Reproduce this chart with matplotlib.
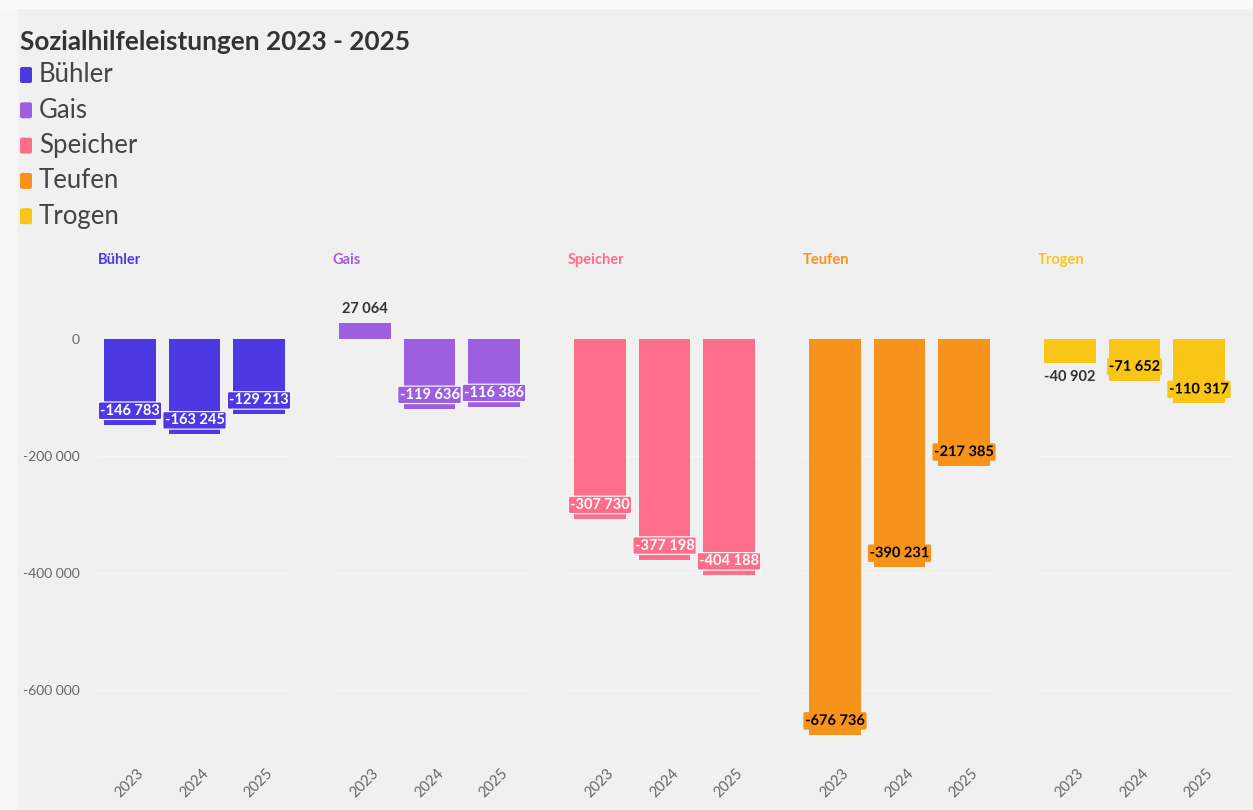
import matplotlib.pyplot as plt
import matplotlib.patheffects as pe
from matplotlib.patches import FancyBboxPatch, Rectangle
from matplotlib.transforms import ScaledTranslation

plt.rcParams['font.family'] = ['Lato', 'DejaVu Sans']

years = ['2023', '2024', '2025']
gemeinden = ['Bühler', 'Gais', 'Speicher', 'Teufen', 'Trogen']
buehler = [-146783, -163245, -129213]
gais = [27064, -119636, -116386]
speicher = [-307730, -377198, -404188]
teufen = [-676736, -390231, -217385]
trogen = [-40902, -71652, -110317]
werte = [buehler, gais, speicher, teufen, trogen]

farben = ['#4d39e4', '#9b5fe0', '#fe6d8a', '#f7921a', '#f9c516']
textfarben = ['white', 'white', 'white', 'black', 'black']
yticks = [0, -200000, -400000, -600000]

W, H = 1253, 810
BG = '#f0f0f0'
fig = plt.figure(figsize=(W / 100, H / 100), dpi=100, facecolor=BG)

# screenshot border
fig.add_artist(Rectangle((0, 0), 18 / W, 1, transform=fig.transFigure,
                         facecolor='#f6f6f6', edgecolor='none', zorder=0))
fig.add_artist(Rectangle((0, 1 - 9 / H), 1, 9 / H, transform=fig.transFigure,
                         facecolor='#fafafa', edgecolor='none', zorder=0))


def fmt(v):
    return f"{v:,}".replace(',', ' ')


def px(x, y):
    return x / W, 1 - y / H


# title + legend
fig.text(*px(20, 42), 'Sozialhilfeleistungen 2023 - 2025', fontsize=18.8,
         fontweight='bold', color='#333333', va='center', ha='left')
for i, (name, c) in enumerate(zip(gemeinden, farben)):
    yc = 75 + i * 35.3
    x0, y0 = px(20, yc + 8)
    fig.add_artist(FancyBboxPatch((x0, y0), 12 / W, 16 / H,
                                  boxstyle='round,pad=0,rounding_size=0.002',
                                  transform=fig.transFigure,
                                  facecolor=c, edgecolor='none'))
    fig.text(*px(39, yc), name, fontsize=18.5, color='#444444',
             va='center', ha='left')

# panels
ymin, ymax = -700000, 80000
top_px, bot_px = 292, 748.5
for k, (name, vals, c, tc) in enumerate(zip(gemeinden, werte, farben, textfarben)):
    left = 97.75 + k * 235
    ax = fig.add_axes([left / W, (H - bot_px) / H, 193.5 / W, (bot_px - top_px) / H])
    ax.set_facecolor('none')
    ax.set_xlim(-0.5, 2.5)
    ax.set_ylim(ymin, ymax)
    xs = range(len(years))
    ax.bar(xs, vals, width=0.8, color=c, zorder=2)
    for yv in yticks[1:]:
        ax.axhline(yv, color='#f6f6f6', lw=1, zorder=1)
    for spine in ax.spines.values():
        spine.set_visible(False)
    ax.set_xticks(list(xs))
    ax.set_xticklabels(years, rotation=45, ha='center', fontsize=10.5, color='#666666')
    for lab in ax.get_xticklabels():
        lab.set_transform(lab.get_transform() + ScaledTranslation(-0.08, -0.02, fig.dpi_scale_trans))
    ax.set_yticks(yticks)
    if k == 0:
        ax.set_yticklabels([fmt(v) for v in yticks], fontsize=10, color='#666666')
    else:
        ax.set_yticklabels([])
    ax.tick_params(length=0, pad=13)

    fig.text(*px(left, 260), name, fontsize=10.5, fontweight='bold', color=c,
             va='center', ha='left')

    px_per_unit = (bot_px - top_px) / (ymax - ymin)
    for x, v in zip(xs, vals):
        hpx = abs(v) * px_per_unit
        if v > 0:
            ax.annotate(fmt(v), (x, v), xytext=(0, 14), textcoords='offset pixels',
                        ha='center', va='center', fontsize=10.5, fontweight='bold',
                        color='#333333', zorder=4)
        elif hpx < 30:
            ax.annotate(fmt(v), (x, v), xytext=(0, -14), textcoords='offset pixels',
                        ha='center', va='center', fontsize=10.5, fontweight='bold',
                        color='#333333', zorder=4)
        else:
            if tc == 'white':
                ax.annotate(fmt(v), (x, v), xytext=(0, 14), textcoords='offset pixels',
                            ha='center', va='center', fontsize=10.5, fontweight='bold',
                            color='white', zorder=4,
                            bbox=dict(boxstyle='round,pad=0.12', facecolor=c,
                                      edgecolor='#ffffff', lw=0.8))
            else:
                ax.annotate(fmt(v), (x, v), xytext=(0, 14), textcoords='offset pixels',
                            ha='center', va='center', fontsize=10.5, fontweight='bold',
                            color='black', zorder=4,
                            bbox=dict(boxstyle='round,pad=0.12', facecolor=c,
                                      edgecolor='none'),
                            path_effects=[pe.withStroke(linewidth=2, foreground=c)])

fig.savefig('out.png', dpi=100, facecolor=BG)
